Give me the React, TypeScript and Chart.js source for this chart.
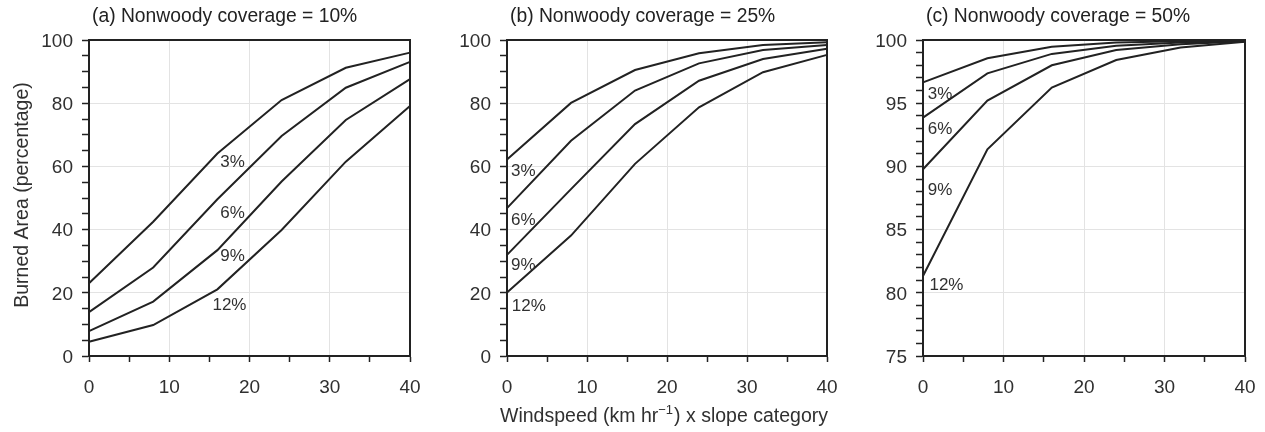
import React, { useEffect, useRef } from "react";
import { Chart, registerables } from "chart.js";

Chart.register(...registerables);

// ---------- data ----------
const windspeed = [0, 8, 16, 24, 32, 40];
const slopeLabels = ["3%", "6%", "9%", "12%"];
const panelTitles = [
  "(a) Nonwoody coverage = 10%",
  "(b) Nonwoody coverage = 25%",
  "(c) Nonwoody coverage = 50%",
];

const cover10_slope3 = [23.0, 42.5, 64.1, 81.0, 91.2, 96.0];
const cover10_slope6 = [13.9, 28.0, 49.6, 69.6, 84.9, 93.1];
const cover10_slope9 = [7.9, 17.2, 33.5, 55.2, 74.7, 87.6];
const cover10_slope12 = [4.5, 9.8, 21.1, 39.9, 61.5, 79.1];

const cover25_slope3 = [62.2, 80.1, 90.5, 95.8, 98.4, 99.3];
const cover25_slope6 = [46.8, 68.1, 84.0, 92.6, 96.8, 98.4];
const cover25_slope9 = [32.0, 52.8, 73.4, 87.1, 94.0, 97.2];
const cover25_slope12 = [20.1, 38.1, 60.8, 78.7, 89.8, 95.3];

const cover50_slope3 = [96.65, 98.55, 99.47, 99.8, 99.9, 99.95];
const cover50_slope6 = [93.86, 97.36, 98.9, 99.55, 99.8, 99.9];
const cover50_slope9 = [89.77, 95.2, 98.0, 99.2, 99.66, 99.9];
const cover50_slope12 = [81.33, 91.35, 96.23, 98.42, 99.4, 99.87];

// curve label anchor points (data coordinates)
const cover10_labelX = [17.9, 17.9, 17.9, 17.5];
const cover10_labelY = [61.4, 45.3, 31.4, 16.1];
const cover25_labelX = [0.5, 0.5, 0.5, 0.6];
const cover25_labelY = [58.6, 42.8, 28.6, 15.6];
const cover50_labelX = [0.6, 0.6, 0.6, 0.8];
const cover50_labelY = [95.73, 92.93, 88.13, 80.62];

const yTickLabels10 = [0, 20, 40, 60, 80, 100];
const yTickLabels50 = [75, 80, 85, 90, 95, 100];
const xTickLabels = [0, 10, 20, 30, 40];

const yAxisTitle = "Burned Area (percentage)";
const xAxisTitleParts = ["Windspeed (km hr", "\u22121", ") x slope category"];

// ---------- styling ----------
const FONT = "'Liberation Sans', Arial, Helvetica, sans-serif";
const INK = "#222222";
const TEXT = "#303030";
const GRID = "#e3e3e3";
const H = 432;

type PanelCfg = {
  idx: number;
  canvasLeft: number;
  width: number;
  plotLeft: number;
  plotRight: number;
  series: number[][];
  labelX: number[];
  labelY: number[];
  labelAlign: CanvasTextAlign;
  yMin: number;
  yMax: number;
  yStep: number;
  yMajor: number[];
  showYTitle: boolean;
  showXTitle: boolean;
};

const panels: PanelCfg[] = [
  {
    idx: 0, canvasLeft: 0, width: 420, plotLeft: 89, plotRight: 410,
    series: [cover10_slope3, cover10_slope6, cover10_slope9, cover10_slope12],
    labelX: cover10_labelX, labelY: cover10_labelY, labelAlign: "center",
    yMin: 0, yMax: 100, yStep: 5, yMajor: yTickLabels10, showYTitle: true, showXTitle: false,
  },
  {
    idx: 1, canvasLeft: 420, width: 420, plotLeft: 87, plotRight: 407,
    series: [cover25_slope3, cover25_slope6, cover25_slope9, cover25_slope12],
    labelX: cover25_labelX, labelY: cover25_labelY, labelAlign: "left",
    yMin: 0, yMax: 100, yStep: 5, yMajor: yTickLabels10, showYTitle: false, showXTitle: true,
  },
  {
    idx: 2, canvasLeft: 840, width: 425, plotLeft: 83, plotRight: 405,
    series: [cover50_slope3, cover50_slope6, cover50_slope9, cover50_slope12],
    labelX: cover50_labelX, labelY: cover50_labelY, labelAlign: "left",
    yMin: 75, yMax: 100, yStep: 1, yMajor: yTickLabels50, showYTitle: false, showXTitle: false,
  },
];

const PLOT_TOP = 40;
const PLOT_BOTTOM = 356;

function Panel({ cfg }: { cfg: PanelCfg }) {
  const ref = useRef<HTMLCanvasElement | null>(null);

  useEffect(() => {
    if (!ref.current) return;
    const yMajorSet = new Set(cfg.yMajor);
    const xMajorSet = new Set(xTickLabels);

    const decorPlugin = {
      id: "decor" + cfg.idx,
      afterDatasetsDraw(chart: any) {
        const { ctx, chartArea, scales } = chart;
        ctx.save();
        // frame top + right
        ctx.strokeStyle = INK;
        ctx.lineWidth = 2;
        ctx.beginPath();
        ctx.moveTo(chartArea.left, chartArea.top);
        ctx.lineTo(chartArea.right, chartArea.top);
        ctx.lineTo(chartArea.right, chartArea.bottom);
        ctx.stroke();

        // curve labels
        ctx.fillStyle = TEXT;
        ctx.font = `17px ${FONT}`;
        ctx.textAlign = cfg.labelAlign;
        ctx.textBaseline = "middle";
        slopeLabels.forEach((lab, i) => {
          const px = scales.x.getPixelForValue(cfg.labelX[i]);
          const py = scales.y.getPixelForValue(cfg.labelY[i]);
          ctx.fillText(lab, px, py);
        });

        // panel title
        ctx.fillStyle = "#222";
        ctx.font = `19.3px ${FONT}`;
        ctx.textAlign = "left";
        ctx.textBaseline = "middle";
        ctx.fillText(panelTitles[cfg.idx], chartArea.left + 3, 17);

        // y axis title
        if (cfg.showYTitle) {
          ctx.save();
          ctx.translate(23, 195);
          ctx.rotate(-Math.PI / 2);
          ctx.font = `19.5px ${FONT}`;
          ctx.textAlign = "center";
          ctx.textBaseline = "middle";
          ctx.fillStyle = TEXT;
          ctx.fillText(yAxisTitle, 0, 0);
          ctx.restore();
        }

        // shared x axis title with superscript
        if (cfg.showXTitle) {
          const main = `19.5px ${FONT}`;
          const sup = `13px ${FONT}`;
          ctx.font = main;
          const w0 = ctx.measureText(xAxisTitleParts[0]).width;
          const w2 = ctx.measureText(xAxisTitleParts[2]).width;
          ctx.font = sup;
          const w1 = ctx.measureText(xAxisTitleParts[1]).width;
          const total = w0 + w1 + w2 + 1;
          let x = 244 - total / 2;
          const base = 422;
          ctx.fillStyle = TEXT;
          ctx.textAlign = "left";
          ctx.textBaseline = "alphabetic";
          ctx.font = main;
          ctx.fillText(xAxisTitleParts[0], x, base);
          x += w0;
          ctx.font = sup;
          ctx.fillText(xAxisTitleParts[1], x, base - 8);
          x += w1 + 1;
          ctx.font = main;
          ctx.fillText(xAxisTitleParts[2], x, base);
        }
        ctx.restore();
      },
    };

    const chart = new Chart(ref.current, {
      type: "line",
      data: {
        datasets: cfg.series.map((s, i) => ({
          label: slopeLabels[i],
          data: windspeed.map((x, j) => ({ x, y: s[j] })),
          borderColor: INK,
          borderWidth: 2,
          pointRadius: 0,
          tension: 0,
          fill: false,
          clip: 4,
        })),
      },
      options: {
        animation: false,
        responsive: false,
        devicePixelRatio: 1,
        layout: {
          padding: { left: 0, right: cfg.width - cfg.plotRight, top: PLOT_TOP, bottom: 0 },
        },
        plugins: {
          legend: { display: false },
          tooltip: { enabled: false },
          title: { display: false },
        },
        scales: {
          x: {
            type: "linear",
            min: 0,
            max: 40,
            afterFit: (s: any) => {
              s.height = H - PLOT_BOTTOM;
              s.paddingLeft = 0;
              s.paddingRight = 0;
            },
            ticks: {
              stepSize: 5,
              autoSkip: false,
              maxRotation: 0,
              padding: 14,
              color: TEXT,
              font: { family: FONT, size: 19 },
              callback: (v: any) => (xMajorSet.has(Number(v)) ? String(v) : ""),
            },
            grid: {
              color: (c: any) =>
                c.tick && c.tick.value % 10 === 0 && c.tick.value > 0 && c.tick.value < 40
                  ? GRID
                  : "rgba(0,0,0,0)",
              tickColor: INK,
              tickLength: 6,
              tickWidth: 1.5,
              lineWidth: 1,
            },
            border: { color: INK, width: 2 },
          },
          y: {
            type: "linear",
            min: cfg.yMin,
            max: cfg.yMax,
            afterFit: (s: any) => {
              s.width = cfg.plotLeft;
              s.paddingTop = 0;
              s.paddingBottom = 0;
            },
            ticks: {
              stepSize: cfg.yStep,
              autoSkip: false,
              padding: 9,
              labelOffset: 1.5,
              color: TEXT,
              font: { family: FONT, size: 19 },
              callback: (v: any) => (yMajorSet.has(Number(v)) ? String(v) : ""),
            },
            grid: {
              color: (c: any) =>
                c.tick && yMajorSet.has(c.tick.value) && c.tick.value > cfg.yMin && c.tick.value < cfg.yMax
                  ? GRID
                  : "rgba(0,0,0,0)",
              tickColor: INK,
              tickLength: 7,
              tickWidth: 1.5,
              lineWidth: 1,
            },
            border: { color: INK, width: 2 },
          },
        },
      },
      plugins: [decorPlugin],
    } as any);

    return () => chart.destroy();
  }, [cfg]);

  return (
    <canvas
      ref={ref}
      width={cfg.width}
      height={H}
      style={{
        position: "absolute",
        left: cfg.canvasLeft,
        top: 0,
        width: cfg.width,
        height: H,
        display: "block",
      }}
    />
  );
}

export default function App() {
  return (
    <div
      style={{
        position: "fixed",
        left: 0,
        top: 0,
        width: 1265,
        height: H,
        background: "#ffffff",
        overflow: "hidden",
      }}
    >
      {panels.map((p) => (
        <Panel key={p.idx} cfg={p} />
      ))}
    </div>
  );
}
